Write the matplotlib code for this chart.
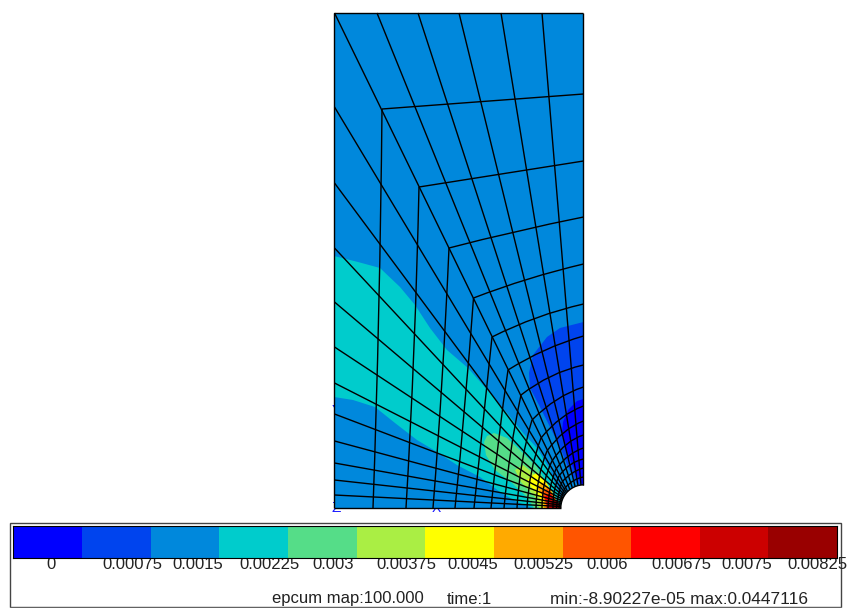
import numpy as np
import matplotlib
matplotlib.use("Agg")
import matplotlib.pyplot as plt
from matplotlib.patches import Polygon, Wedge, PathPatch, Rectangle
from matplotlib.path import Path

plt.rcParams['font.family'] = ['Liberation Sans', 'DejaVu Sans']

# ---- colour scale
levels = ["0", "0.00075", "0.0015", "0.00225", "0.003", "0.00375", "0.0045",
          "0.00525", "0.006", "0.00675", "0.0075", "0.00825"]
band_colors = ["#0000ff", "#0044ee", "#0088dc", "#00cccc", "#55dd88", "#aaee44",
               "#ffff00", "#ffaa00", "#ff5500", "#ff0000", "#cc0000", "#990000"]
label_left = [46.5, 102, 172, 239, 312, 376, 447, 513, 586, 651, 721, 787]

# ---- plate geometry (picture coordinates)
plate_x = [334.5, 583.5]
plate_y = [13, 508]
hole_centre = (584, 508)
hole_radius = 23.2

# ---- mesh: outer nodes of the fan lines
left_edge_y = [13, 107, 183, 248, 302, 347, 383, 414, 441, 463, 480, 495]
top_edge_x = [377, 418, 459, 501, 542]
left_hole_deg = [45, 41.25, 37.5, 33.75, 30, 26.25, 22.5, 18.75, 15, 11.25, 7.5, 3.75]
top_hole_deg = [52.5, 60, 67.5, 75, 82.5]
outline_hole_deg = [0, 3.75, 7.5, 11.25, 15, 18.75, 22.5, 26.25, 30, 33.75, 37.5, 41.25, 45,
                    52.5, 60, 67.5, 75, 82.5, 90]

# ---- mesh: rings, bottom edge -> kink on the diagonal -> right edge
ring_bottom_x = [373, 406, 433, 455, 474, 491, 504, 517, 527, 536, 542, 548, 553, 556.5, 559]
ring_kink_x = [382, 419, 449, 473.5, 492, 508, 521, 532, 541, 547, 552, 556, 559, 562, 565]
ring_kink_y = [109, 187, 248, 298, 337, 370, 395, 420, 438, 451, 461, 469, 476, 482, 488]
ring_right_y = [94, 161, 217, 264, 304, 336, 365, 387, 406, 421, 435, 448, 459, 468, 477]
ring_bulge_left = [-1.8, -2, -1.5, -1, 0, 1, 2, 3, 3, 3, 3, 2, 2, 1, 1]
ring_bulge_top = [0, 0, 1, 2, 3, 3, 4, 4, 4, 4, 4, 3, 3, 2, 2]

# ---- contour outlines of the field, lowest band painted first
zone_teal = [(334, 256), (358, 262), (380, 268), (400, 287), (415, 305), (430, 328), (447, 350),
             (468, 368), (490, 393), (507, 413), (523, 433), (537, 448), (550, 470), (560, 497),
             (563, 508), (533, 508), (517, 502), (500, 492), (480, 477), (457, 465), (437, 452),
             (417, 440), (395, 423), (375, 407), (353, 400), (334, 397)]
zone_green = [(484, 442), (487, 436), (494, 433), (507, 438), (520, 450), (537, 467), (551, 490), (558, 508),
              (534, 508), (527, 497), (511, 482), (495, 470), (486, 455)]
zone_lime = [(515, 470), (523, 465), (538, 477), (552, 497), (556, 508), (539, 508), (535, 497), (521, 482)]
zone_yellow = [(527, 480), (536, 473), (546, 482), (554, 495), (558, 508), (542, 508), (540, 498), (532, 488)]
zone_orange = [(537, 487), (544, 482), (551, 490), (556, 500), (559, 508), (544, 508), (543, 497)]
zone_deep_orange = [(541, 492), (548, 488), (553, 496), (559, 508), (546, 508), (545, 499)]
zone_red = [(544, 497), (550, 493), (555, 500), (560, 508), (547, 508), (546, 502)]
zone_crimson = [(547, 500), (553, 496), (557, 503), (561, 508), (549, 508)]
zone_maroon = [(551, 502), (557, 500), (562, 508), (552, 508)]
zone_low = [(583.5, 322), (560, 328), (547, 337), (533, 355), (529, 373), (530, 388), (540, 407),
            (550, 427), (560, 447), (568, 467), (577, 484), (583.5, 486)]
zone_lowest = [(583.5, 399), (577, 401), (568, 410), (563, 422), (562, 432), (565, 447), (570, 460),
               (578, 478), (583.5, 486)]

fig = plt.figure(figsize=(8.5, 6.08), dpi=100)
ax = fig.add_axes([0, 0, 1, 1])
ax.set_xlim(0, 850)
ax.set_ylim(608, 0)
ax.axis('off')

# axis letters sit behind the field
ax.text(337, 417, "Y", color="#1a1aff", fontsize=12, ha='center', va='baseline', zorder=0.5)
ax.text(332, 512, "Z", color="#1a1aff", fontsize=11, ha='left', va='baseline', zorder=0.5)
ax.text(436.5, 512, "X", color="#1a1aff", fontsize=10, ha='center', va='baseline', zorder=0.5)

# field
ax.fill_between(plate_x, plate_y[0], plate_y[1], color=band_colors[2], lw=0, zorder=1)
for zone, col in [(zone_low, 1), (zone_lowest, 0), (zone_teal, 3), (zone_green, 4), (zone_lime, 5),
                  (zone_yellow, 6), (zone_orange, 7), (zone_deep_orange, 8), (zone_red, 9),
                  (zone_crimson, 10), (zone_maroon, 11)]:
    ax.add_patch(Polygon(zone, closed=True, fc=band_colors[col], ec='none', zorder=2))
# the y axis runs downward, so this wedge is the upper-left quarter of the hole
ax.add_patch(Wedge(hole_centre, hole_radius, 180, 270, fc='white', ec='none', zorder=3))


def hole_point(deg):
    a = np.radians(deg)
    return hole_centre[0] - hole_radius * np.cos(a), hole_centre[1] - hole_radius * np.sin(a)


LW = 1.0


def mesh_line(xs, ys):
    ax.plot(xs, ys, color='black', lw=LW, solid_capstyle='butt', zorder=4)


def ring_part(a, b, bulge):
    mx, my = (a[0] + b[0]) / 2, (a[1] + b[1]) / 2
    nx, ny = mx - hole_centre[0], my - hole_centre[1]
    n = np.hypot(nx, ny)
    c = (mx + 2 * bulge * nx / n, my + 2 * bulge * ny / n)
    path = Path([a, c, b], [Path.MOVETO, Path.CURVE3, Path.CURVE3])
    ax.add_patch(PathPatch(path, fc='none', ec='black', lw=LW, zorder=4))


# fan lines
for y, deg in zip(left_edge_y, left_hole_deg):
    hx, hy = hole_point(deg)
    mesh_line([plate_x[0], hx], [y, hy])
for x, deg in zip(top_edge_x, top_hole_deg):
    hx, hy = hole_point(deg)
    mesh_line([x, hx], [plate_y[0], hy])

# rings
for i in range(len(ring_bottom_x)):
    k = (ring_kink_x[i], ring_kink_y[i])
    ring_part((ring_bottom_x[i], plate_y[1]), k, ring_bulge_left[i])
    ring_part(k, (plate_x[1], ring_right_y[i]), ring_bulge_top[i])

# outline
mesh_line([plate_x[0], plate_x[0]], plate_y)
mesh_line(plate_x, [plate_y[0], plate_y[0]])
mesh_line([plate_x[0], hole_centre[0] - hole_radius], [plate_y[1], plate_y[1]])
mesh_line([plate_x[1], plate_x[1]], [plate_y[0], hole_centre[1] - hole_radius])
ring_xy = [hole_point(d) for d in outline_hole_deg]
mesh_line([p[0] for p in ring_xy], [p[1] for p in ring_xy])

# legend frame
ax.add_patch(Rectangle((10.5, 523), 830.5, 84, fc='none', ec='#444444', lw=1.0, zorder=1))
ax.plot([10.5, 841], [607.5, 607.5], color='#e0e0e0', lw=1.0, zorder=1.5)

# colour bar
cax = fig.add_axes([13.5 / 850, 1 - 557.5 / 608, (837 - 13.5) / 850, (557.5 - 526) / 608])
cax.bar(np.arange(len(levels)), np.ones(len(levels)), width=1.0, align='edge',
        color=band_colors, lw=0)
cax.set_xlim(0, len(levels))
cax.set_ylim(0, 1)
cax.set_xticks([])
cax.set_yticks([])
for s in cax.spines.values():
    s.set_linewidth(0.8)
    s.set_color('black')

for lab, x in zip(levels, label_left):
    ax.text(x, 569, lab, fontsize=12, color='#222222', ha='left', va='baseline', zorder=5)

ax.text(272, 603.5, "epcum map:100.000", fontsize=12, color='#222222', ha='left', va='baseline')
ax.text(447, 603.5, "time:1", fontsize=12, color='#222222', ha='left', va='baseline')
ax.text(550, 603.5, "min:-8.90227e-05 max:0.0447116", fontsize=12.4, color='#222222', ha='left', va='baseline')

fig.savefig("out.png", dpi=100)
